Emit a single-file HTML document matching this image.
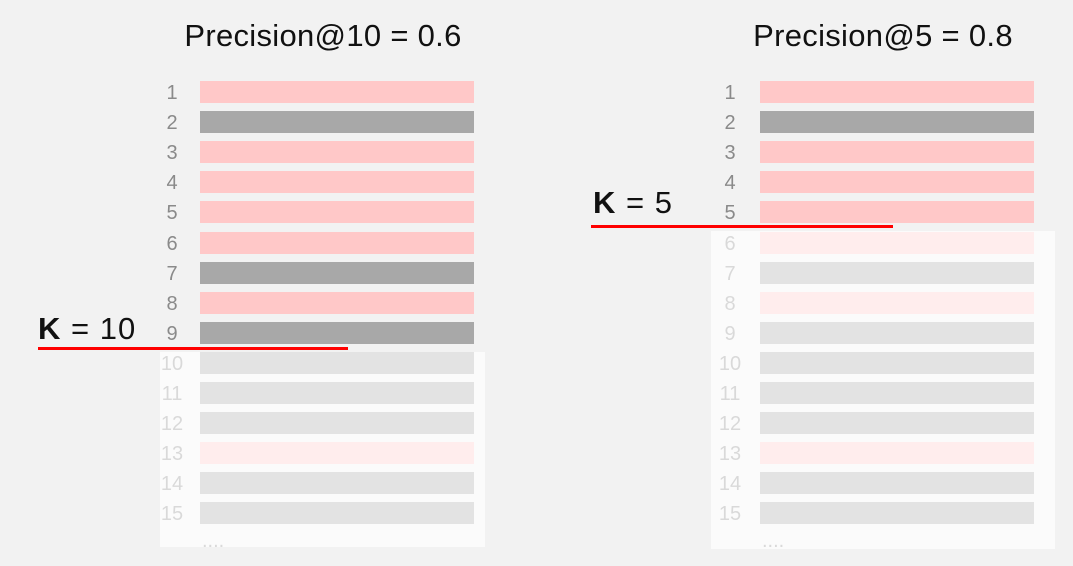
<!DOCTYPE html>
<html><head><style>
body{margin:0;width:1073px;height:566px;background:#f2f2f2;position:relative;overflow:hidden;font-family:"Liberation Sans",sans-serif}
.a{position:absolute}
.t{font-size:31px;color:#111;text-align:center;width:400px;top:18px;letter-spacing:0.3px}
.n{font-size:20px;color:#8a8a8a;width:30px;text-align:center}
.b{height:22px;width:274px}
.p{background:#ffc8c8}.g{background:#a8a8a8}
.ov{background:rgba(255,255,255,0.68)}
.k{font-size:31px;color:#111;letter-spacing:1px}
.r{background:#f00;height:3px}
</style></head><body>
<div class="a t" style="left:123px">Precision@10 = 0.6</div>
<div class="a t" style="left:683px">Precision@5 = 0.8</div>
<div id="c"></div>
<script>
var pat="pgppppgpggggpgg",h="";
[[200,160],[760,718]].forEach(function(s){
for(var i=0;i<15;i++){var y=81+i*30.1;
h+='<div class="a n" style="left:'+(s[1]-3)+'px;top:'+(y+1)+'px">'+(i+1)+'</div>';
h+='<div class="a b '+pat[i]+'" style="left:'+s[0]+'px;top:'+y+'px"></div>';}
h+='<div class="a n" style="left:'+(s[0]+2)+'px;top:530px;width:40px;text-align:left">....</div>';
});
document.getElementById('c').innerHTML=h;
</script>
<div class="a ov" style="left:160px;top:352px;width:325px;height:195px"></div>
<div class="a ov" style="left:711px;top:231px;width:344px;height:318px"></div>
<div class="a k" style="left:38px;top:311px"><b>K</b> = 10</div>
<div class="a r" style="left:38px;top:347px;width:310px"></div>
<div class="a k" style="left:593px;top:185px"><b>K</b> = 5</div>
<div class="a r" style="left:591px;top:225px;width:302px"></div>
</body></html>
